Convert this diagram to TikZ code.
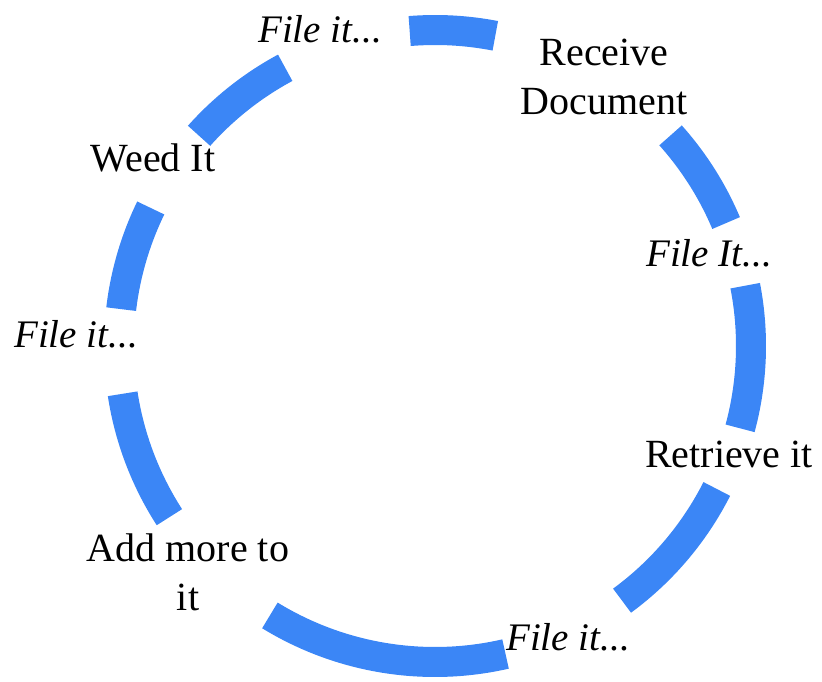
\documentclass[tikz,border=0pt]{standalone}
\usepackage{fontspec}
\setmainfont{Liberation Serif}
\definecolor{cycleblue}{RGB}{59,134,246}
\begin{document}
\begin{tikzpicture}[x=1pt,y=1pt,
  seg/.style={draw=cycleblue, line width=30pt, line cap=butt},
  step label/.style={font=\fontsize{40}{49}\selectfont, inner sep=0pt, anchor=base, align=center},
  file label/.style={font=\fontsize{39}{47}\selectfont\itshape, inner sep=0pt, anchor=base}]
  \useasboundingbox (0,0) rectangle (822,681);
  \coordinate (c) at (435,335);
  \def\rad{316pt}

  % dashed ring of the filing cycle
  \foreach \a/\b in {79.0/94.6, 118.3/138.3, 154.1/173.3, 188.7/212.8,
                     238.5/282.9, 306.3/333.1, 344.9/371.0, 22.9/41.8}
    \draw[seg] (c) ++(\a:\rad) arc[start angle=\a, end angle=\b, radius=\rad];

  % stages (base anchor sits on the last line)
  \node[step label] (receive) at (604,566) {Receive\\Document};
  \node[step label] (retrieve) at (729,214) {Retrieve it};
  \node[step label] (addmore) at (188,71) {Add more to\\it};
  \node[step label] (weed) at (153,509) {Weed It};

  % filing steps between stages
  \node[file label] (file1) at (320,638) {File it...};
  \node[file label] (file2) at (709,414) {File It...};
  \node[file label] (file3) at (568,31) {File it...};
  \node[file label] (file4) at (76,333) {File it...};
\end{tikzpicture}
\end{document}
